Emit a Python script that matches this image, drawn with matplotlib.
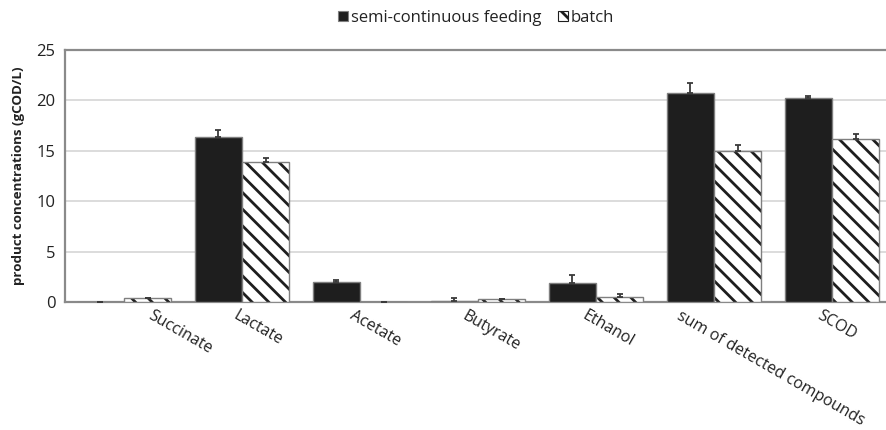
import numpy as np
import matplotlib.pyplot as plt
from matplotlib.patches import Patch

plt.rcParams["font.family"] = ["Open Sans", "DejaVu Sans"]
plt.rcParams["hatch.linewidth"] = 2.0

categories = ["Succinate", "Lactate", "Acetate", "Butyrate", "Ethanol",
              "sum of detected compounds", "SCOD"]
semi_continuous = [0.0, 16.4, 2.0, 0.1, 1.9, 20.7, 20.25]
semi_continuous_err = [0.0, 0.7, 0.2, 0.3, 0.75, 1.05, 0.2]
batch = [0.37, 13.9, 0.0, 0.27, 0.53, 15.0, 16.15]
batch_err = [0.0, 0.4, 0.0, 0.0, 0.22, 0.55, 0.5]

# horizontal nudges for the slanted category labels (in category units)
label_shift = [0.25, -0.03, -0.04, -0.09, -0.07, -0.27, -0.08]

HATCH = "\\\\"
DARK = "#1e1e1e"
EDGE = "#7f7f7f"

W, H = 886, 430
fig = plt.figure(figsize=(W / 100, H / 100), dpi=100)
ax = fig.add_axes([65 / W, (H - 302) / H, 826 / W, 252 / H])

x = np.arange(len(categories))
width = 0.4
err_kw = dict(ecolor="#3a3a3a", elinewidth=1.3, capsize=2.5, capthick=1.3)

ax.bar(x - width / 2, semi_continuous, width, color=DARK, edgecolor=EDGE,
       linewidth=1.0, yerr=[np.zeros(len(x)), semi_continuous_err],
       error_kw=err_kw, zorder=3)
# hatch takes the edge colour, so fill with dark stripes first, then outline
ax.bar(x + width / 2, batch, width, color="white", edgecolor=DARK,
       linewidth=0, hatch=HATCH, zorder=3)
ax.bar(x + width / 2, batch, width, fill=False, edgecolor=EDGE,
       linewidth=1.0, yerr=[np.zeros(len(x)), batch_err],
       error_kw=err_kw, zorder=3)

ax.set_xlim(-0.5, len(categories) - 0.5)
ax.set_ylim(0, 25)
ax.set_yticks([0, 5, 10, 15, 20, 25])
ax.tick_params(axis="y", length=0, pad=7, labelsize=12, labelcolor="#222222")
ax.set_xticks([])
ax.grid(axis="y", color="#dcdcdc", linewidth=1.4, zorder=0)
ax.set_axisbelow(True)

for side in ["left", "top", "bottom"]:
    ax.spines[side].set_color("#8a8a8a")
    ax.spines[side].set_linewidth(1.6)
ax.spines["right"].set_visible(False)

for xi, name, dx in zip(x, categories, label_shift):
    ax.text(xi + dx, -0.6, name, rotation=-30, rotation_mode="anchor",
            ha="left", va="top", fontsize=11.5, color="#222222")

ax.set_ylabel("product concentrations (gCOD/L)", fontsize=9.6, fontweight="bold",
              color="#222222", labelpad=8)

handles = [Patch(facecolor=DARK, edgecolor=EDGE, linewidth=0.8),
           Patch(facecolor="white", edgecolor=DARK, linewidth=0.8, hatch=HATCH)]
fig.legend(handles, ["semi-continuous feeding", "batch"], loc="center",
           bbox_to_anchor=(476 / W, 1 - 18 / H), ncol=2, frameon=False,
           handlelength=0.6, handleheight=0.6, handletextpad=0.15,
           columnspacing=1.0, fontsize=12, labelcolor="#222222")

fig.savefig("out.png", dpi=100)
